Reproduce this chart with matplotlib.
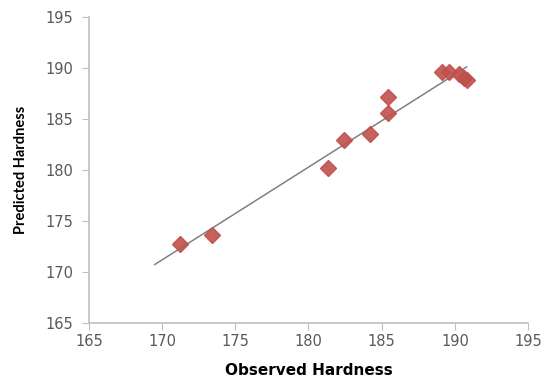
import matplotlib
matplotlib.use("Agg")
import matplotlib.pyplot as plt
import numpy as np

observed = [171.2, 173.4, 181.3, 182.4, 184.2, 185.4, 185.4, 189.1, 189.6, 190.3, 190.6, 190.8]
predicted = [172.7, 173.6, 180.2, 182.9, 183.5, 185.6, 187.1, 189.6, 189.6, 189.4, 189.0, 188.8]
ticks = [165, 170, 175, 180, 185, 190, 195]

plt.rcParams['font.family'] = ['DejaVu Sans']
fig = plt.figure(figsize=(5.45, 3.83), dpi=100)
ax = fig.add_axes([0.163, 0.157, 0.806, 0.799])

coef = np.polyfit(observed, predicted, 1)
xl = np.array([169.5, max(observed)])
ax.plot(xl, np.polyval(coef, xl), color='#808080', lw=1.1, zorder=2)
ax.plot(observed, predicted, linestyle='none', marker='D', markersize=8,
        color='#c0504d', alpha=0.9, zorder=3)

ax.set_xlim(165, 195)
ax.set_ylim(165, 195)
ax.set_xticks(ticks)
ax.set_yticks(ticks)
for s in ['top', 'right']:
    ax.spines[s].set_visible(False)
for s in ['left', 'bottom']:
    ax.spines[s].set_color('#bfbfbf')
    ax.spines[s].set_linewidth(1.2)
ax.tick_params(axis='both', direction='out', length=5, color='#bfbfbf',
               labelsize=10.5, labelcolor='#595959')
ax.tick_params(axis='y', pad=6)
ax.tick_params(axis='x', pad=3)
ax.set_xlabel('Observed Hardness', fontsize=11, fontweight='bold',
              family='DejaVu Sans', labelpad=10)
ax.set_ylabel('Predicted Hardness', fontsize=10.5, fontweight='bold',
              family='Lato', labelpad=13)

fig.savefig('out.png', dpi=100)
